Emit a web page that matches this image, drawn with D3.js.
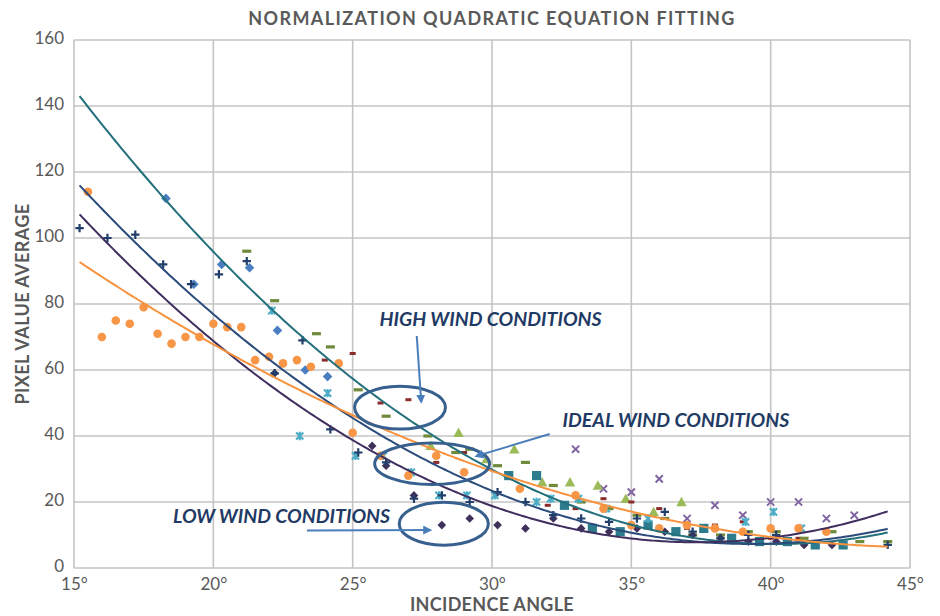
<!DOCTYPE html>
<html><head><meta charset="utf-8">
<script src="https://cdn.jsdelivr.net/npm/d3@7"></script>
<style>
html,body{margin:0;padding:0;background:#fff;}
text{font-family:Lato,"Open Sans",sans-serif;}
</style></head>
<body><div id="chart"></div>
<script>
// ---------- DATA ----------
const xTicks = [15,20,25,30,35,40,45];
const yTicks = [0,20,40,60,80,100,120,140,160];

const orangeX = [15.5,16,16.5,17,17.5,18,18.5,19,19.5,20,20.5,21,21.5,22,22.5,23,23.5,24.5,25,26,27,28,29,31,33,34,35,36,37,38,39,40,41,42];
const orangeY = [114,70,75,74,79,71,68,70,70,74,73,73,63,64,62,63,61,62,41,34,28,34,29,24,22,18,13,12,13,12,11,12,12,11];

const plusX = [15.2,16.2,17.2,18.2,19.2,20.2,21.2,22.2,23.2,24.2,25.2,26.2,27.2,28.2,29.2,30.2,31.2,32.2,33.2,34.2,35.2,36.2,37.2,38.2,39.2,40.2,44.2];
const plusY = [103,100,101,92,86,89,93,59,69,42,35,32,21,22,20,23,20,16,15,14,15,17,11,9,10,10,7];

const blueDiaX = [18.3,19.3,20.3,21.3,22.3,23.3,24.1];
const blueDiaY = [112,86,92,91,72,60,58];

const darkDiaX = [22.2,25.7,26.2,27.2,28.2,29.2,30.2,31.2,32.2,33.2,34.2,35.2,36.2,37.2,38.2,39.2,40.2,41.2,42.2];
const darkDiaY = [59,37,31,22,13,15,13,12,15,12,11,12,11,10,9,8,8,7,7];

const greenDashX = [21.2,22.2,23.7,24.2,25.2,26.2,27.7,28.7,29.2,30.2,31.2,32.2,33.2,34.2,35.2,36.2,37.2,38.2,39.2,40.2,41.2,42.2,43.2,44.2];
const greenDashY = [96,81,71,67,54,46,40,35,36,31,32,25,20,18,16,15,10,10,11,11,9,11,8,8];

const redDashX = [24,25,26,27,28,29,31,32,33,34,35,36,37,38,39,40,41];
const redDashY = [63,65,50,51,32,35,24,19,18,21,20,18,12,13,14,9,9];

const cyanStarX = [22.1,23.1,24.1,25.1,26.1,27.1,28.1,29.1,30.1,31.6,32.1,33.1,34.1,35.6,39.1,40.1,41.1];
const cyanStarY = [78,40,53,34,34,29,22,22,22,20,21,21,18,15,14,17,12];

const triX = [27.8,28.8,29.8,30.8,31.8,32.8,33.8,34.8,35.8,36.8];
const triY = [37,41,33,36,26,26,25,21,17,20];

const purpleXx = [33,34,35,36,37,38,39,40,41,42,43];
const purpleXy = [36,24,23,27,15,19,16,20,20,15,16];

const squareX = [30.6,31.6,32.6,33.6,34.6,35.6,36.6,37.6,38.6,39.6,40.6,41.6,42.6];
const squareY = [28,28,19,12,11,13,11,12,9,8,8,7,7];

// quadratic trend lines y = A + Bx + Cx^2
const trendA = [358.45, 296.6, 289.97, 199.67];
const trendB = [-17.48, -14.738, -15.096, -8.433];
const trendC = [0.2175, 0.1877, 0.2019, 0.0919];
const trendColors = ["#236F7B","#2B4B7B","#3F2E5E","#F7923E"];
const trendRange = [15.2, 44.2];

// annotations (data coordinates)
const noteTexts = ["HIGH WIND CONDITIONS","IDEAL WIND CONDITIONS","LOW WIND CONDITIONS"];
const noteX = [29.95, 36.6, 22.45];
const noteY = [73.4, 42.8, 13.6];
const ellCX = [26.7, 27.85, 28.27];
const ellCY = [48.6, 31.6, 13.4];
const ellRX = [1.63, 2.06, 1.6];
const ellRY = [6.5, 6.3, 6.5];
const arrowFrom = [[27.3,70.3],[32.07,40.6],[23.36,11.4]];
const arrowTo = [[27.46,50.3],[29.43,33.9],[27.79,11.5]];

// ---------- CHART ----------
const W = 940, H = 616;
const m = {left:74, right:30, top:40, bottom:48};
const svg = d3.select("#chart").append("svg").attr("width",W).attr("height",H);
const x = d3.scaleLinear().domain([15,45]).range([m.left, W-m.right]);
const y = d3.scaleLinear().domain([0,160]).range([H-m.bottom, m.top]);

const grid = "#C4C4C4";
svg.append("g").selectAll("line").data(yTicks).join("line")
  .attr("x1",x(15)).attr("x2",x(45)).attr("y1",d=>y(d)).attr("y2",d=>y(d))
  .attr("stroke",grid).attr("stroke-width",1.6);
svg.append("g").selectAll("line").data(xTicks).join("line")
  .attr("y1",y(0)).attr("y2",y(160)).attr("x1",d=>x(d)).attr("x2",d=>x(d))
  .attr("stroke",grid).attr("stroke-width",1.6);

const xAxis = d3.axisBottom(x).tickValues(xTicks).tickFormat(d=>d+"°").tickSize(0).tickPadding(10);
const gx = svg.append("g").attr("transform",`translate(0,${y(0)})`).call(xAxis);
gx.select(".domain").remove();
gx.selectAll("text").attr("font-size",17).attr("fill","#595959").style("font-family","Lato");
const yAxis = d3.axisLeft(y).tickValues(yTicks).tickSize(0).tickPadding(10);
const gy = svg.append("g").attr("transform",`translate(${x(15)},0)`).call(yAxis);
gy.select(".domain").remove();
gy.selectAll("text").attr("font-size",17).attr("fill","#595959").style("font-family","Lato").attr("dy","0.22em");

svg.append("text").attr("x",(x(15)+x(45))/2).attr("y",25).attr("text-anchor","middle")
  .attr("font-size",18).attr("font-weight","bold").attr("fill","#595959").attr("letter-spacing",1.4)
  .text("NORMALIZATION QUADRATIC EQUATION FITTING");
svg.append("text").attr("x",(x(15)+x(45))/2).attr("y",611).attr("text-anchor","middle")
  .attr("font-size",18).attr("font-weight","bold").attr("fill","#595959").attr("letter-spacing",0.3)
  .text("INCIDENCE ANGLE");
svg.append("text").attr("transform",`translate(29,${(y(0)+y(160))/2}) rotate(-90)`).attr("text-anchor","middle")
  .attr("font-size",18).attr("font-weight","bold").attr("fill","#595959").attr("letter-spacing",0.4)
  .text("PIXEL VALUE AVERAGE");

const shapes = {
  circle: g => g.append("circle").attr("r",4.3),
  plus: g => g.append("path").attr("d","M-4.2,0H4.2M0,-4.2V4.2").attr("stroke-width",2.2).attr("fill","none"),
  diamond: g => g.append("path").attr("d","M0,-4.8L4.8,0L0,4.8L-4.8,0Z"),
  darkdiamond: g => g.append("path").attr("d","M0,-4.3L4.3,0L0,4.3L-4.3,0Z"),
  dash: g => g.append("rect").attr("x",-4.5).attr("y",-1.6).attr("width",9).attr("height",3.2),
  smalldash: g => g.append("rect").attr("x",-3).attr("y",-1.5).attr("width",6).attr("height",3),
  star: g => g.append("path").attr("d","M-3.6,-3.6L3.6,3.6M-3.6,3.6L3.6,-3.6M0,-4.2V4.2").attr("stroke-width",2.1).attr("fill","none"),
  triangle: g => g.append("path").attr("d","M0,-5.2L5.2,4.2L-5.2,4.2Z"),
  xmark: g => g.append("path").attr("d","M-3.6,-3.6L3.6,3.6M-3.6,3.6L3.6,-3.6").attr("stroke-width",2).attr("fill","none"),
  square: g => g.append("rect").attr("x",-4.6).attr("y",-4.6).attr("width",9.2).attr("height",9.2)
};
const series = [
  {xs:purpleXx, ys:purpleXy, shape:"xmark", color:"#8064A2", stroke:true},
  {xs:triX, ys:triY, shape:"triangle", color:"#9BBB59"},
  {xs:squareX, ys:squareY, shape:"square", color:"#2C7C8E"},
  {xs:redDashX, ys:redDashY, shape:"smalldash", color:"#8B2C2C"},
  {xs:greenDashX, ys:greenDashY, shape:"dash", color:"#6F8A3A"},
  {xs:cyanStarX, ys:cyanStarY, shape:"star", color:"#4BACC6", stroke:true},
  {xs:darkDiaX, ys:darkDiaY, shape:"darkdiamond", color:"#40315A"},
  {xs:blueDiaX, ys:blueDiaY, shape:"diamond", color:"#4A7EC0"},
  {xs:orangeX, ys:orangeY, shape:"circle", color:"#F79646"},
  {xs:plusX, ys:plusY, shape:"plus", color:"#223E6A", stroke:true}
];
series.forEach(s=>{
  const pts = s.xs.map((v,i)=>[v,s.ys[i]]);
  const g = svg.append("g");
  pts.forEach(p=>{
    const mg = g.append("g").attr("transform",`translate(${x(p[0])},${y(p[1])})`);
    const el = shapes[s.shape](mg);
    if(s.stroke) el.attr("stroke",s.color); else el.attr("fill",s.color);
  });
});

const line = d3.line().x(d=>x(d[0])).y(d=>y(d[1]));
trendA.forEach((a,i)=>{
  const pts = d3.range(trendRange[0], trendRange[1]+0.001, 0.1).map(v=>[v, a + trendB[i]*v + trendC[i]*v*v]);
  svg.append("path").datum(pts).attr("d",line).attr("fill","none")
    .attr("stroke",trendColors[i]).attr("stroke-width",2);
});

const defs = svg.append("defs");
defs.append("marker").attr("id","ah").attr("viewBox","0 0 10 10").attr("refX",8).attr("refY",5)
  .attr("markerWidth",4.5).attr("markerHeight",4.5).attr("orient","auto")
  .append("path").attr("d","M0,0L10,5L0,10Z").attr("fill","#4A7EBB");
ellCX.forEach((cx,i)=>{
  svg.append("ellipse").attr("cx",x(cx)).attr("cy",y(ellCY[i]))
    .attr("rx",x(cx+ellRX[i])-x(cx)).attr("ry",y(0)-y(ellRY[i]))
    .attr("fill","none").attr("stroke","#38608F").attr("stroke-width",3);
});
arrowFrom.forEach((f,i)=>{
  svg.append("line").attr("x1",x(f[0])).attr("y1",y(f[1])).attr("x2",x(arrowTo[i][0])).attr("y2",y(arrowTo[i][1]))
    .attr("stroke","#4A7EBB").attr("stroke-width",2).attr("marker-end","url(#ah)");
});
noteTexts.forEach((t,i)=>{
  svg.append("text").attr("x",x(noteX[i])).attr("y",y(noteY[i])).attr("text-anchor","middle")
    .attr("font-size",19.5).attr("font-weight","bold").attr("font-style","italic").attr("fill","#1F3A64")
    .text(t);
});
</script></body></html>
